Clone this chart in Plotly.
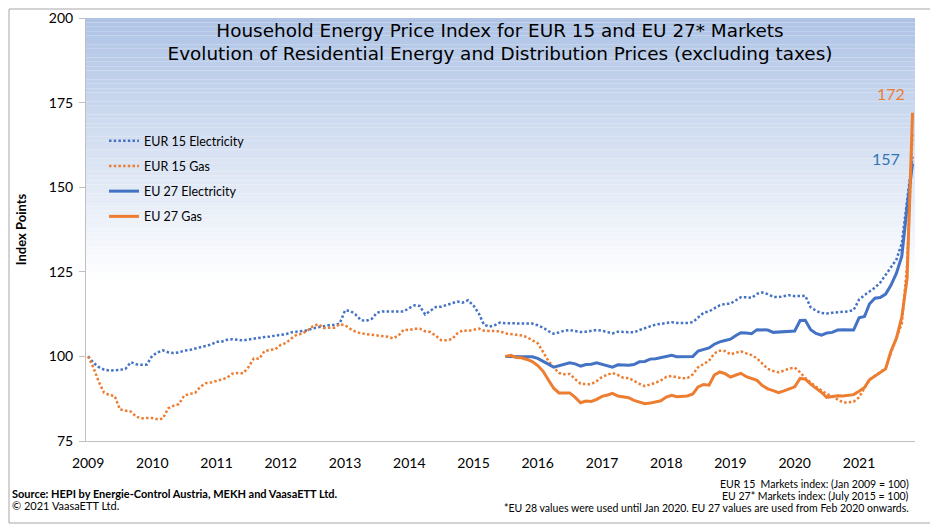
import pandas as pd
import plotly.graph_objects as go

# monthly index values, Jan 2009 .. Nov 2021 (EUR 15), Jul 2015 .. Nov 2021 (EU 27)
months = pd.date_range("2009-01-01", periods=155, freq="MS")
eu27_start = 78  # July 2015

eur15_elec = [
    100.0, 98.1, 96.9, 96.1, 95.8, 95.8, 96.0, 96.3, 98.3, 97.7, 97.5, 97.6,
    100.2, 101.2, 101.8, 101.2, 101.0, 101.2, 101.7, 101.9, 102.2, 102.7, 103.1, 103.5,
    104.3, 104.4, 104.9, 105.1, 104.9, 104.7, 105.0, 105.3, 105.4, 105.7, 105.9, 106.1,
    106.3, 106.6, 107.1, 107.3, 107.3, 107.7, 108.3, 108.6, 109.0, 109.2, 109.3, 109.7,
    113.6, 113.4, 112.4, 110.7, 110.5, 111.1, 112.9, 113.3, 113.3, 113.3, 113.3, 113.3,
    114.3, 115.1, 114.9, 112.4, 113.5, 114.6, 114.7, 115.2, 115.9, 116.2, 115.9, 116.6,
    115.0, 112.6, 109.4, 108.8, 109.2, 110.0, 109.8, 109.8, 109.8, 109.8, 109.8, 109.7,
    109.2, 108.5, 107.5, 106.7, 107.1, 107.6, 107.8, 107.6, 107.2, 107.3, 107.6, 107.8,
    107.6, 107.2, 106.8, 107.3, 107.2, 107.0, 107.1, 107.8, 108.3, 108.9, 109.4, 109.6,
    109.9, 110.1, 109.9, 109.8, 109.9, 110.1, 111.6, 112.9, 113.3, 114.2, 115.1, 115.5,
    115.6, 116.6, 117.5, 117.5, 117.3, 118.5, 118.9, 118.4, 117.6, 117.5, 117.9, 118.1,
    117.8, 117.9, 117.9, 114.5, 113.5, 112.8, 112.7, 112.9, 113.0, 113.3, 113.3, 113.7,
    116.8, 118.1, 119.1, 120.3, 121.8, 124.2, 126.2, 128.6, 133.4, 146.0, 159.0,
]

eur15_gas = [
    100.0, 96.6, 92.7, 89.3, 88.6, 88.3, 84.3, 83.9, 83.7, 82.2, 81.7, 81.8,
    81.8, 81.4, 81.6, 84.6, 85.4, 85.9, 88.4, 88.9, 89.2, 91.0, 92.1, 92.3,
    92.7, 93.2, 93.7, 94.9, 95.1, 95.0, 96.8, 99.4, 99.3, 101.6, 101.9, 102.1,
    103.4, 104.0, 105.3, 106.4, 106.7, 107.6, 108.9, 109.5, 108.4, 108.5, 108.5, 109.5,
    109.2, 108.1, 107.3, 106.8, 106.6, 106.5, 106.2, 106.0, 105.8, 105.3, 106.2, 107.9,
    107.8, 108.2, 108.2, 107.4, 107.2, 106.1, 104.8, 104.8, 105.1, 106.8, 107.7, 107.5,
    107.8, 108.2, 107.6, 107.5, 107.6, 107.4, 106.8, 106.7, 106.4, 106.2, 105.7, 104.8,
    103.9, 101.3, 98.7, 96.8, 95.1, 94.7, 94.8, 93.3, 91.9, 91.8, 91.8, 92.7,
    93.9, 94.6, 95.1, 94.5, 93.7, 93.6, 92.7, 91.9, 91.2, 91.6, 92.2, 92.9,
    93.9, 94.2, 93.8, 93.5, 93.6, 94.7, 96.8, 97.7, 98.7, 100.9, 101.7, 101.6,
    100.6, 101.1, 101.5, 100.9, 100.4, 99.4, 98.0, 96.3, 95.7, 95.3, 95.8, 96.4,
    96.7, 95.3, 93.6, 92.2, 91.0, 90.0, 88.9, 88.2, 87.4, 86.4, 86.4, 86.6,
    87.9, 90.6, 93.1, 94.2, 95.3, 96.6, 101.0, 105.1, 109.7, 127.0, 166.0,
]

eu27_elec = [
    100.0, 99.9, 99.9, 99.9, 99.9, 99.9,
    99.4, 98.6, 97.7, 96.8, 97.3, 97.6, 98.1, 97.8, 97.1, 97.6, 97.7, 98.1,
    97.7, 97.2, 96.8, 97.5, 97.4, 97.4, 97.6, 98.4, 98.5, 99.2, 99.3, 99.6,
    100.0, 100.3, 99.9, 99.9, 99.9, 100.0, 101.6, 102.0, 102.5, 103.6, 104.3, 104.7,
    105.1, 106.2, 107.0, 106.9, 106.7, 107.9, 107.9, 107.8, 107.1, 107.2, 107.4, 107.4,
    107.5, 110.6, 110.7, 107.9, 106.8, 106.3, 106.9, 107.1, 107.8, 107.9, 107.8, 107.8,
    111.4, 111.8, 115.5, 117.2, 117.4, 118.4, 121.0, 124.5, 129.6, 144.1, 157.0,
]

eu27_gas = [
    100.0, 100.3, 99.7, 99.6, 99.1, 98.5,
    97.3, 95.6, 93.1, 90.6, 89.2, 89.2, 89.2, 87.9, 86.3, 86.8, 86.7, 87.3,
    88.2, 88.6, 89.1, 88.3, 88.0, 87.8, 87.0, 86.4, 86.0, 86.2, 86.5, 86.9,
    88.0, 88.5, 88.1, 88.1, 88.3, 88.9, 91.0, 91.7, 91.5, 94.5, 95.4, 94.9,
    93.9, 94.5, 95.0, 94.0, 93.5, 92.9, 91.4, 90.4, 89.9, 89.3, 89.8, 90.5,
    91.0, 93.5, 93.3, 91.8, 90.6, 89.4, 87.9, 88.1, 88.4, 88.3, 88.4, 88.7,
    89.7, 90.8, 93.1, 94.1, 95.2, 96.3, 101.5, 105.3, 111.6, 123.0, 172.0,
]

BLUE = "#4472C4"
ORANGE = "#ED7D31"
DOT = "2.5px,2.2px"

# page body has an 8px margin, so the figure is 8px smaller and offset
OFF = 8
W, H = 938 - OFF, 530 - OFF
# plot area in screen pixels
L, R, T, B = 86, 915, 18, 441
def px(x):
    return (x - L) / (R - L)
def py(y):
    return (B - y) / (B - T)

fig = go.Figure()
fig.add_trace(go.Scatter(x=months, y=eur15_elec, name="EUR 15 Electricity", mode="lines",
                         line=dict(color=BLUE, width=2.5, dash=DOT), legendgroup="a"))
fig.add_trace(go.Scatter(x=months, y=eur15_gas, name="EUR 15 Gas", mode="lines",
                         line=dict(color=ORANGE, width=2.5, dash=DOT), legendgroup="b"))
fig.add_trace(go.Scatter(x=months[eu27_start:], y=eu27_elec, name="EU 27 Electricity", mode="lines",
                         line=dict(color=BLUE, width=3), legendgroup="c"))
fig.add_trace(go.Scatter(x=months[eu27_start:], y=eu27_gas, name="EU 27 Gas", mode="lines",
                         line=dict(color=ORANGE, width=3), legendgroup="d"))

# gradient background: light blue at top fading to white
shapes = []
n = 60
top_c = (174, 195, 229)
y_white = py(281)
for i in range(n):
    f0 = i / n
    f1 = (i + 1) / n
    t = (f0 + f1) / 2
    c = tuple(round(top_c[k] + (255 - top_c[k]) * t) for k in range(3))
    shapes.append(dict(type="rect", xref="paper", yref="paper", layer="below",
                       x0=0, x1=1, y0=1 - f1 * (1 - y_white), y1=1 - f0 * (1 - y_white),
                       line=dict(width=0), fillcolor="rgb(%d,%d,%d)" % c))
# outer chart frame
shapes.append(dict(type="rect", xref="paper", yref="paper",
                   x0=px(9), x1=px(935), y0=py(523), y1=py(9),
                   line=dict(color="#a6a6a6", width=1)))

annotations = [
    dict(x=months[150], y=177.8, text="172", showarrow=False, font=dict(size=16, color=ORANGE)),
    dict(x=months[149], y=158.6, text="157", showarrow=False, font=dict(size=16, color="#2E75B6")),
    dict(x=px(10), y=py(502), xref="paper", yref="paper", xanchor="left", showarrow=False,
         text="<b>Source: HEPI by Energie-Control Austria, MEKH and VaasaETT Ltd.</b>",
         font=dict(size=11, color="#000000")),
    dict(x=px(10), y=py(514), xref="paper", yref="paper", xanchor="left", showarrow=False,
         text="© 2021 VaasaETT Ltd.", font=dict(size=11, color="#000000")),
    dict(x=px(911), y=py(492), xref="paper", yref="paper", xanchor="right", showarrow=False,
         text="EUR 15  Markets index: (Jan 2009 = 100)", font=dict(size=10.5, color="#000000")),
    dict(x=px(911), y=py(504), xref="paper", yref="paper", xanchor="right", showarrow=False,
         text="EU 27* Markets index: (July 2015 = 100)", font=dict(size=10.5, color="#000000")),
    dict(x=px(911), y=py(516), xref="paper", yref="paper", xanchor="right", showarrow=False,
         text="*EU 28 values were used until Jan 2020. EU 27 values are used from Feb 2020 onwards.",
         font=dict(size=10.5, color="#000000")),
]

fig.update_layout(
    width=W, height=H,
    margin=dict(l=L - OFF, r=938 - R, t=T - OFF, b=530 - B),
    paper_bgcolor="white", plot_bgcolor="rgba(0,0,0,0)",
    font=dict(family="Lato, sans-serif", color="#000000"),
    title=dict(text="Household Energy Price Index for EUR 15 and EU 27* Markets<br>"
                    "Evolution of Residential Energy and Distribution Prices (excluding taxes)",
               xref="container", x=(500 - OFF) / W, xanchor="center",
               yref="container", y=1 - (36.5 - OFF) / H, yanchor="middle",
               font=dict(family="DejaVu Sans, sans-serif", size=18.4, color="#000000")),
    showlegend=True,
    legend=dict(x=px(104), y=py(126), xanchor="left", yanchor="top", bgcolor="rgba(0,0,0,0)",
                font=dict(size=12.5), itemwidth=30, tracegroupgap=6),
    shapes=shapes,
    annotations=annotations,
    xaxis=dict(range=["2008-12-20", "2021-11-15"], tick0="2009-01-01", dtick="M12",
               tickformat="%Y", showgrid=False, zeroline=False, automargin=False,
               showline=True, linecolor="#bfbfbf", linewidth=1,
               ticks="", tickfont=dict(size=14), ticklabelstandoff=9),
    yaxis=dict(range=[75, 200], dtick=25, showgrid=False, zeroline=False, automargin=False,
               showline=True, linecolor="#bfbfbf", linewidth=1,
               ticks="outside", ticklen=6, tickcolor="#bfbfbf",
               tickfont=dict(size=14), ticklabelstandoff=3, ticklabeloverflow="allow",
               title=dict(text="<b>Index Points</b>", font=dict(size=13), standoff=19)),
)

fig.write_html("out.html")
